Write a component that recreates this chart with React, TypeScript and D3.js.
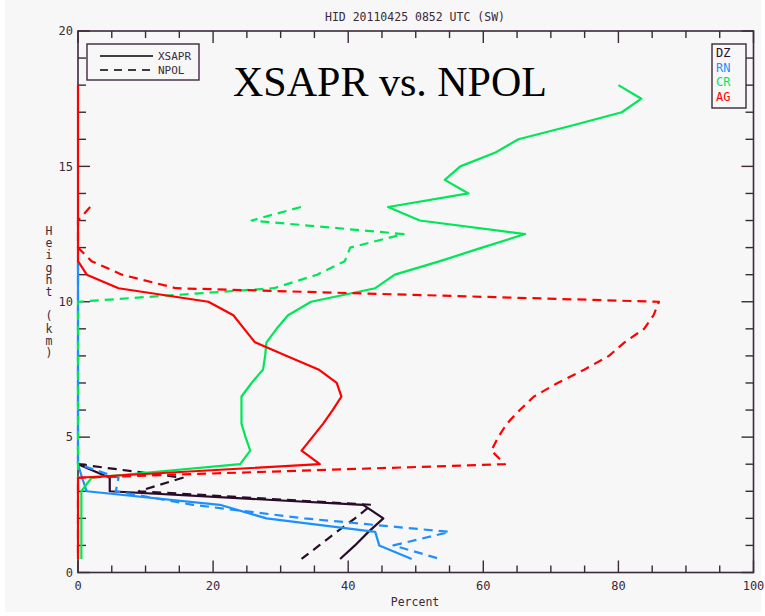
import React from "react";
import * as d3 from "d3";

// height levels (km) and percent values
const dzXsaprH = [4.0, 3.5, 3.0, 2.5, 2.0, 1.5, 1.0, 0.5];
const dzXsaprP = [0, 4.7, 4.7, 42.2, 45.2, 43, 41, 38.8];
const dzNpolH = [4.0, 3.5, 3.0, 2.5, 2.0, 1.5, 1.0, 0.5];
const dzNpolP = [0, 15.5, 9, 43.5, 41, 38.3, 35.7, 33.1];

const rnXsaprH = [11.5, 11.0, 10.5, 10.0, 9.5, 9.0, 8.5, 8.0, 7.5, 7.0, 6.5, 6.0, 5.5, 5.0, 4.5, 4.0, 3.5, 3.0, 2.5, 2.0, 1.5, 1.0, 0.5];
const rnXsaprP = [0, 0, 0, 0, 0, 0, 0, 0, 0, 0, 0, 0, 0, 0, 0, 0, 0.6, 1.3, 21, 27.9, 44, 44.6, 49.4];
const rnNpolH = [11.5, 11.0, 10.5, 10.0, 9.5, 9.0, 8.5, 8.0, 7.5, 7.0, 6.5, 6.0, 5.5, 5.0, 4.5, 4.0, 3.5, 3.0, 2.5, 2.0, 1.5, 1.0, 0.5];
const rnNpolP = [0, 0, 0, 0, 0, 0, 0, 0, 0, 0, 0, 0, 0, 0, 0, 0, 6, 5.6, 17, 33.5, 55, 46.7, 53.6];

const crXsaprH = [18.0, 17.5, 17.0, 16.5, 16.0, 15.5, 15.0, 14.5, 14.0, 13.5, 13.0, 12.5, 12.0, 11.5, 11.0, 10.5, 10.0, 9.5, 9.0, 8.5, 8.0, 7.5, 7.0, 6.5, 6.0, 5.5, 5.0, 4.5, 4.0, 3.5, 3.0, 2.5, 2.0, 1.5, 1.0, 0.5];
const crXsaprP = [80.0, 83.4, 80.5, 73, 65.2, 61.7, 56.6, 54.3, 57.8, 45.9, 50.6, 66.2, 59.8, 53.6, 46.9, 44.0, 34.5, 31.1, 29.4, 27.9, 27.7, 27.4, 25.7, 24.2, 24.2, 24.2, 24.8, 25.5, 24.0, 2.0, 0.5, 0.5, 0.5, 0.5, 0.5, 0.5];
const crNpolH = [13.5, 13.0, 12.5, 12.0, 11.5, 11.0, 10.5, 10.0, 9.5, 9.0, 8.5, 8.0, 7.5, 7.0, 6.5, 6.0, 5.5, 5.0, 4.5, 4.0, 3.5];
const crNpolP = [33.0, 25.7, 48.2, 40.3, 39.5, 35.4, 29, 0, 0, 0, 0, 0, 0, 0, 0, 0, 0, 0, 0, 0, 0];

const agXsaprH = [18.0, 17.5, 17.0, 16.5, 16.0, 15.5, 15.0, 14.5, 14.0, 13.5, 13.0, 12.5, 12.0, 11.5, 11.0, 10.5, 10.0, 9.5, 9.0, 8.5, 8.0, 7.5, 7.0, 6.5, 6.0, 5.5, 5.0, 4.5, 4.0, 3.5, 3.0, 2.5, 2.0, 1.5, 1.0, 0.5];
const agXsaprP = [0, 0, 0, 0, 0, 0, 0, 0, 0, 0, 0, 0, 0, 0, 1.3, 6.0, 19.3, 23.0, 24.6, 26.2, 30.9, 35.6, 38.3, 39.0, 37.7, 36.3, 34.7, 33.1, 35.8, 0, 0, 0, 0, 0, 0, 0];
const agNpolH = [13.5, 13.0, 12.5, 12.0, 11.5, 11.0, 10.5, 10.0, 9.5, 9.0, 8.5, 8.0, 7.5, 7.0, 6.5, 6.0, 5.5, 5.0, 4.5, 4.0, 3.5, 3.0, 2.5, 2.0, 1.5, 1.0, 0.5];
const agNpolP = [1.8, 0, 0, 0, 2.0, 6.5, 14.5, 86, 85.2, 83.8, 80.9, 78.6, 75, 71, 67.5, 65.4, 63.5, 62.2, 61.2, 63.2, 0, 0, 0, 0, 0, 0, 0];

const classNames = ["DZ", "RN", "CR", "AG"];
const classColors = ["#2a0c2a", "#1e8fff", "#00e659", "#ff0000"];

const xTickLabels = [0, 20, 40, 60, 80, 100];
const yTickLabels = [0, 5, 10, 15, 20];

const axisColor = "#3a2a3a";
const mono = "'DejaVu Sans Mono', monospace";

function App() {
  const x = d3.scaleLinear().domain([0, 100]).range([78, 753.5]);
  const y = d3.scaleLinear().domain([0, 20]).range([572.5, 31]);

  const makePath = (hs: number[], ps: number[]) =>
    d3
      .line<number>()
      .x((_, i) => x(ps[i]))
      .y((h) => y(h))(hs) || "";

  // draw order: DZ, RN, CR, AG ; solid = XSAPR, dashed = NPOL
  const series = [
    { h: dzXsaprH, p: dzXsaprP, c: 0, dash: false },
    { h: dzNpolH, p: dzNpolP, c: 0, dash: true },
    { h: rnXsaprH, p: rnXsaprP, c: 1, dash: false },
    { h: rnNpolH, p: rnNpolP, c: 1, dash: true },
    { h: crXsaprH, p: crXsaprP, c: 2, dash: false },
    { h: crNpolH, p: crNpolP, c: 2, dash: true },
    { h: agXsaprH, p: agXsaprP, c: 3, dash: false },
    { h: agNpolH, p: agNpolP, c: 3, dash: true },
  ];

  const xTicks = d3.range(0, 101, 5);
  const yTicks = d3.range(0, 21, 1);
  const [xl, xr] = x.range();
  const [yb, yt] = y.range();

  return (
    <svg width={765} height={616} style={{ position: "absolute", left: 0, top: 0 }}>
      <rect x={0} y={0} width={765} height={616} fill="#ffffff" />
      <rect x={5} y={0} width={756} height={612} fill="#f7f7f7" />

      <text x={415} y={21} textAnchor="middle" fontFamily={mono} fontSize={11.5} fill={axisColor}>
        HID 20110425 0852 UTC (SW)
      </text>

      {/* frame */}
      <rect x={xl} y={yt} width={xr - xl} height={yb - yt} fill="none" stroke={axisColor} strokeWidth={1.6} />
      {xTicks.map((t) => {
        const len = t % 20 === 0 ? 12 : 7;
        return (
          <g key={"xt" + t}>
            <line x1={x(t)} x2={x(t)} y1={yb} y2={yb - len} stroke={axisColor} strokeWidth={1.4} />
            <line x1={x(t)} x2={x(t)} y1={yt} y2={yt + len} stroke={axisColor} strokeWidth={1.4} />
          </g>
        );
      })}
      {yTicks.map((t) => {
        const len = t % 5 === 0 ? 12 : 8;
        return (
          <g key={"yt" + t}>
            <line x1={xl} x2={xl + len} y1={y(t)} y2={y(t)} stroke={axisColor} strokeWidth={1.4} />
            <line x1={xr} x2={xr - len} y1={y(t)} y2={y(t)} stroke={axisColor} strokeWidth={1.4} />
          </g>
        );
      })}
      {xTickLabels.map((t) => (
        <text key={"xl" + t} x={x(t)} y={590} textAnchor="middle" fontFamily={mono} fontSize={12} fill={axisColor}>
          {t}
        </text>
      ))}
      {yTickLabels.map((t) => (
        <text key={"yl" + t} x={73} y={y(t)} dy="0.35em" textAnchor="end" fontFamily={mono} fontSize={12} fill={axisColor}>
          {t}
        </text>
      ))}
      <text x={415} y={606} textAnchor="middle" fontFamily={mono} fontSize={11.5} fill={axisColor}>
        Percent
      </text>
      {/* stacked, upright axis title */}
      <text
        x={49}
        y={224}
        fontFamily={mono}
        fontSize={11.5}
        letterSpacing={-1.8}
        fill={axisColor}
        style={{ writingMode: "vertical-rl", textOrientation: "upright" } as React.CSSProperties}
      >
        Height (km)
      </text>

      {/* data lines, drawn over the frame */}
      {series.map((s, i) => (
        <path
          key={i}
          d={makePath(s.h, s.p)}
          fill="none"
          stroke={classColors[s.c]}
          strokeWidth={2.2}
          strokeDasharray={s.dash ? "9,6" : undefined}
          strokeLinejoin="round"
        />
      ))}

      {/* big title */}
      <text x={233} y={96} fontFamily="'Liberation Serif', 'Times New Roman', serif" fontSize={42} fill="#000">
        XSAPR vs. NPOL
      </text>

      {/* radar legend */}
      <rect x={87} y={44} width={112} height={36} fill="#f7f7f7" stroke={axisColor} strokeWidth={1.4} />
      <line x1={100} x2={153} y1={56} y2={56} stroke="#000" strokeWidth={1.5} />
      <line x1={100} x2={153} y1={70} y2={70} stroke="#000" strokeWidth={1.5} strokeDasharray="8,6" />
      <text x={158} y={60} fontFamily={mono} fontSize={11} fill={axisColor}>XSAPR</text>
      <text x={158} y={74} fontFamily={mono} fontSize={11} fill={axisColor}>NPOL</text>

      {/* class legend */}
      <rect x={712} y={44} width={34} height={64} fill="#f7f7f7" stroke={axisColor} strokeWidth={1.4} />
      {classNames.map((n, i) => (
        <text key={n} x={716} y={57 + i * 14.5} fontFamily={mono} fontSize={12} fill={classColors[i]}>
          {n}
        </text>
      ))}
    </svg>
  );
}

export default App;
